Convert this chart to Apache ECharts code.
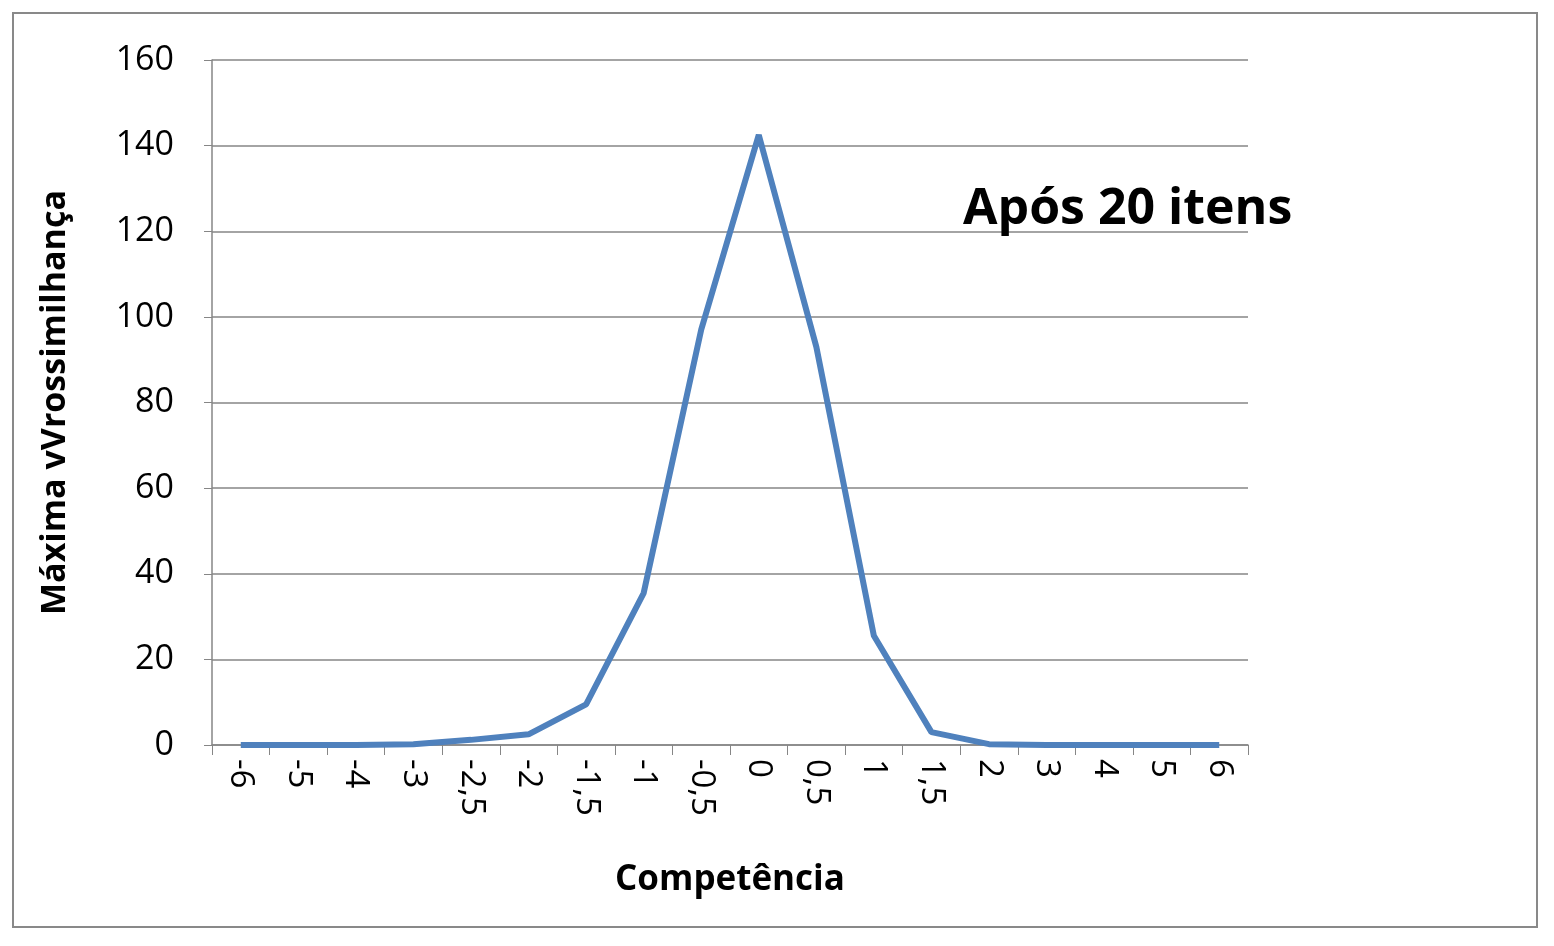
<!DOCTYPE html>
<html><head><meta charset="utf-8">
<script src="https://cdn.jsdelivr.net/npm/echarts@6/dist/echarts.min.js"></script>
<style>
html,body{margin:0;padding:0;background:#fff;}
#frame{position:absolute;left:12px;top:12px;width:1522px;height:912px;border:2px solid #898989;}
#main{position:absolute;left:0;top:0;width:1554px;height:946px;}
</style></head>
<body>
<div id="frame"></div>
<div id="main"></div>
<script>
var categories = ['-6','-5','-4','-3','-2,5','-2','-1,5','-1','-0,5','0','0,5','1','1,5','2','3','4','5','6'];
var values = [0, 0, 0, 0.2, 1.2, 2.5, 9.5, 35.5, 97, 142.5, 93, 25.5, 3, 0.2, 0, 0, 0, 0];
var yTicks = [0, 20, 40, 60, 80, 100, 120, 140, 160];

var myChart = echarts.init(document.getElementById('main'));
var option = {
  animation: false,
  textStyle: { fontFamily: 'Open Sans' },
  title: {
    text: 'Após 20 itens',
    left: 958, top: 180,
    textStyle: { fontSize: 50, fontWeight: 'bold', color: '#000', fontFamily: 'Open Sans' }
  },
  grid: { left: 212, right: 306, top: 60, bottom: 201 },
  xAxis: {
    type: 'category',
    data: categories,
    boundaryGap: true,
    name: 'Competência',
    nameLocation: 'middle',
    nameGap: 118,
    nameTextStyle: { fontSize: 35, fontWeight: 'bold', color: '#000' },
    axisLine: { lineStyle: { color: '#868686', width: 1.5 } },
    axisTick: { show: true, length: 10, lineStyle: { color: '#868686' } },
    axisLabel: { interval: 0, rotate: -90, fontSize: 33, color: '#000', margin: 14 }
  },
  yAxis: {
    type: 'value',
    min: yTicks[0], max: yTicks[yTicks.length - 1], interval: 20,
    name: 'Máxima vVrossimilhança',
    nameLocation: 'middle',
    nameGap: 140,
    nameTextStyle: { fontSize: 34, fontWeight: 'bold', color: '#000' },
    axisLine: { show: true, lineStyle: { color: '#868686', width: 1.5 } },
    axisTick: { show: true, length: 8, inside: false, lineStyle: { color: '#868686' } },
    axisLabel: { fontSize: 34, color: '#000', margin: 38 },
    splitLine: { lineStyle: { color: '#868686', width: 1.5 } }
  },
  series: [{
    type: 'line',
    data: values,
    symbol: 'none',
    lineStyle: { color: '#4f81bd', width: 6 }
  }]
};
myChart.setOption(option);
</script>
</body></html>
